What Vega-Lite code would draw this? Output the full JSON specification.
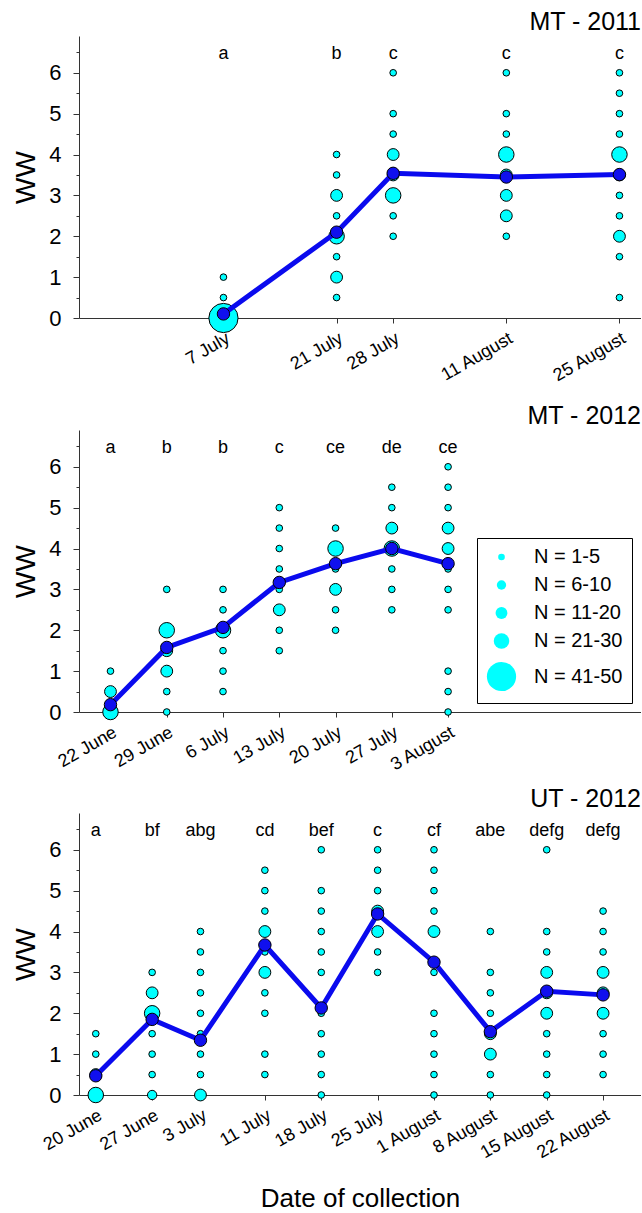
{
"$schema": "https://vega.github.io/schema/vega-lite/v6.json",
"padding": {"left": 12, "top": 10, "right": 0, "bottom": 0},
"config": {"font": "Liberation Sans", "view": {"stroke": null}, "title": {"color": "black", "font": "Liberation Sans"}, "axis": {"labelFont": "Liberation Sans", "titleFont": "Liberation Sans"}, "legend": {"labelFont": "Liberation Sans"}},
"datasets": {
"pts": [
{"panel":"MT - 2011","date":"2011-07-07","ww":1,"n":"N = 1-5"},
{"panel":"MT - 2011","date":"2011-07-07","ww":0.5,"n":"N = 1-5"},
{"panel":"MT - 2011","date":"2011-07-07","ww":0,"n":"N = 41-50"},
{"panel":"MT - 2011","date":"2011-07-21","ww":4,"n":"N = 1-5"},
{"panel":"MT - 2011","date":"2011-07-21","ww":3.5,"n":"N = 1-5"},
{"panel":"MT - 2011","date":"2011-07-21","ww":3,"n":"N = 11-20"},
{"panel":"MT - 2011","date":"2011-07-21","ww":2.5,"n":"N = 1-5"},
{"panel":"MT - 2011","date":"2011-07-21","ww":2,"n":"N = 21-30"},
{"panel":"MT - 2011","date":"2011-07-21","ww":1.5,"n":"N = 1-5"},
{"panel":"MT - 2011","date":"2011-07-21","ww":1,"n":"N = 11-20"},
{"panel":"MT - 2011","date":"2011-07-21","ww":0.5,"n":"N = 1-5"},
{"panel":"MT - 2011","date":"2011-07-28","ww":6,"n":"N = 1-5"},
{"panel":"MT - 2011","date":"2011-07-28","ww":5,"n":"N = 1-5"},
{"panel":"MT - 2011","date":"2011-07-28","ww":4.5,"n":"N = 1-5"},
{"panel":"MT - 2011","date":"2011-07-28","ww":4,"n":"N = 11-20"},
{"panel":"MT - 2011","date":"2011-07-28","ww":3.5,"n":"N = 11-20"},
{"panel":"MT - 2011","date":"2011-07-28","ww":3,"n":"N = 21-30"},
{"panel":"MT - 2011","date":"2011-07-28","ww":2.5,"n":"N = 1-5"},
{"panel":"MT - 2011","date":"2011-07-28","ww":2,"n":"N = 1-5"},
{"panel":"MT - 2011","date":"2011-08-11","ww":6,"n":"N = 1-5"},
{"panel":"MT - 2011","date":"2011-08-11","ww":5,"n":"N = 1-5"},
{"panel":"MT - 2011","date":"2011-08-11","ww":4.5,"n":"N = 1-5"},
{"panel":"MT - 2011","date":"2011-08-11","ww":4,"n":"N = 21-30"},
{"panel":"MT - 2011","date":"2011-08-11","ww":3.5,"n":"N = 11-20"},
{"panel":"MT - 2011","date":"2011-08-11","ww":3,"n":"N = 11-20"},
{"panel":"MT - 2011","date":"2011-08-11","ww":2.5,"n":"N = 11-20"},
{"panel":"MT - 2011","date":"2011-08-11","ww":2,"n":"N = 1-5"},
{"panel":"MT - 2011","date":"2011-08-25","ww":6,"n":"N = 1-5"},
{"panel":"MT - 2011","date":"2011-08-25","ww":5.5,"n":"N = 1-5"},
{"panel":"MT - 2011","date":"2011-08-25","ww":5,"n":"N = 1-5"},
{"panel":"MT - 2011","date":"2011-08-25","ww":4.5,"n":"N = 1-5"},
{"panel":"MT - 2011","date":"2011-08-25","ww":4,"n":"N = 21-30"},
{"panel":"MT - 2011","date":"2011-08-25","ww":3.5,"n":"N = 11-20"},
{"panel":"MT - 2011","date":"2011-08-25","ww":3,"n":"N = 1-5"},
{"panel":"MT - 2011","date":"2011-08-25","ww":2.5,"n":"N = 1-5"},
{"panel":"MT - 2011","date":"2011-08-25","ww":2,"n":"N = 11-20"},
{"panel":"MT - 2011","date":"2011-08-25","ww":1.5,"n":"N = 1-5"},
{"panel":"MT - 2011","date":"2011-08-25","ww":0.5,"n":"N = 1-5"},
{"panel":"MT - 2012","date":"2012-06-22","ww":1,"n":"N = 1-5"},
{"panel":"MT - 2012","date":"2012-06-22","ww":0.5,"n":"N = 11-20"},
{"panel":"MT - 2012","date":"2012-06-22","ww":0,"n":"N = 21-30"},
{"panel":"MT - 2012","date":"2012-06-29","ww":3,"n":"N = 1-5"},
{"panel":"MT - 2012","date":"2012-06-29","ww":2,"n":"N = 21-30"},
{"panel":"MT - 2012","date":"2012-06-29","ww":1.5,"n":"N = 11-20"},
{"panel":"MT - 2012","date":"2012-06-29","ww":1,"n":"N = 11-20"},
{"panel":"MT - 2012","date":"2012-06-29","ww":0.5,"n":"N = 1-5"},
{"panel":"MT - 2012","date":"2012-06-29","ww":0,"n":"N = 1-5"},
{"panel":"MT - 2012","date":"2012-07-06","ww":3,"n":"N = 1-5"},
{"panel":"MT - 2012","date":"2012-07-06","ww":2.5,"n":"N = 1-5"},
{"panel":"MT - 2012","date":"2012-07-06","ww":2,"n":"N = 21-30"},
{"panel":"MT - 2012","date":"2012-07-06","ww":1.5,"n":"N = 1-5"},
{"panel":"MT - 2012","date":"2012-07-06","ww":1,"n":"N = 1-5"},
{"panel":"MT - 2012","date":"2012-07-06","ww":0.5,"n":"N = 1-5"},
{"panel":"MT - 2012","date":"2012-07-13","ww":5,"n":"N = 1-5"},
{"panel":"MT - 2012","date":"2012-07-13","ww":4.5,"n":"N = 1-5"},
{"panel":"MT - 2012","date":"2012-07-13","ww":4,"n":"N = 1-5"},
{"panel":"MT - 2012","date":"2012-07-13","ww":3.5,"n":"N = 1-5"},
{"panel":"MT - 2012","date":"2012-07-13","ww":3,"n":"N = 1-5"},
{"panel":"MT - 2012","date":"2012-07-13","ww":2.5,"n":"N = 11-20"},
{"panel":"MT - 2012","date":"2012-07-13","ww":2,"n":"N = 1-5"},
{"panel":"MT - 2012","date":"2012-07-13","ww":1.5,"n":"N = 1-5"},
{"panel":"MT - 2012","date":"2012-07-20","ww":4.5,"n":"N = 1-5"},
{"panel":"MT - 2012","date":"2012-07-20","ww":4,"n":"N = 21-30"},
{"panel":"MT - 2012","date":"2012-07-20","ww":3.5,"n":"N = 1-5"},
{"panel":"MT - 2012","date":"2012-07-20","ww":3,"n":"N = 11-20"},
{"panel":"MT - 2012","date":"2012-07-20","ww":2.5,"n":"N = 1-5"},
{"panel":"MT - 2012","date":"2012-07-20","ww":2,"n":"N = 1-5"},
{"panel":"MT - 2012","date":"2012-07-27","ww":5.5,"n":"N = 1-5"},
{"panel":"MT - 2012","date":"2012-07-27","ww":5,"n":"N = 1-5"},
{"panel":"MT - 2012","date":"2012-07-27","ww":4.5,"n":"N = 11-20"},
{"panel":"MT - 2012","date":"2012-07-27","ww":4,"n":"N = 21-30"},
{"panel":"MT - 2012","date":"2012-07-27","ww":3.5,"n":"N = 1-5"},
{"panel":"MT - 2012","date":"2012-07-27","ww":3,"n":"N = 1-5"},
{"panel":"MT - 2012","date":"2012-07-27","ww":2.5,"n":"N = 1-5"},
{"panel":"MT - 2012","date":"2012-08-03","ww":6,"n":"N = 1-5"},
{"panel":"MT - 2012","date":"2012-08-03","ww":5.5,"n":"N = 1-5"},
{"panel":"MT - 2012","date":"2012-08-03","ww":5,"n":"N = 1-5"},
{"panel":"MT - 2012","date":"2012-08-03","ww":4.5,"n":"N = 11-20"},
{"panel":"MT - 2012","date":"2012-08-03","ww":4,"n":"N = 11-20"},
{"panel":"MT - 2012","date":"2012-08-03","ww":3.5,"n":"N = 1-5"},
{"panel":"MT - 2012","date":"2012-08-03","ww":3,"n":"N = 1-5"},
{"panel":"MT - 2012","date":"2012-08-03","ww":2.5,"n":"N = 1-5"},
{"panel":"MT - 2012","date":"2012-08-03","ww":1,"n":"N = 1-5"},
{"panel":"MT - 2012","date":"2012-08-03","ww":0.5,"n":"N = 1-5"},
{"panel":"MT - 2012","date":"2012-08-03","ww":0,"n":"N = 1-5"},
{"panel":"UT - 2012","date":"2012-06-20","ww":1.5,"n":"N = 1-5"},
{"panel":"UT - 2012","date":"2012-06-20","ww":1,"n":"N = 1-5"},
{"panel":"UT - 2012","date":"2012-06-20","ww":0.5,"n":"N = 11-20"},
{"panel":"UT - 2012","date":"2012-06-20","ww":0,"n":"N = 21-30"},
{"panel":"UT - 2012","date":"2012-06-27","ww":3,"n":"N = 1-5"},
{"panel":"UT - 2012","date":"2012-06-27","ww":2.5,"n":"N = 11-20"},
{"panel":"UT - 2012","date":"2012-06-27","ww":2,"n":"N = 21-30"},
{"panel":"UT - 2012","date":"2012-06-27","ww":1.5,"n":"N = 1-5"},
{"panel":"UT - 2012","date":"2012-06-27","ww":1,"n":"N = 1-5"},
{"panel":"UT - 2012","date":"2012-06-27","ww":0.5,"n":"N = 1-5"},
{"panel":"UT - 2012","date":"2012-06-27","ww":0,"n":"N = 6-10"},
{"panel":"UT - 2012","date":"2012-07-03","ww":4,"n":"N = 1-5"},
{"panel":"UT - 2012","date":"2012-07-03","ww":3.5,"n":"N = 1-5"},
{"panel":"UT - 2012","date":"2012-07-03","ww":3,"n":"N = 1-5"},
{"panel":"UT - 2012","date":"2012-07-03","ww":2.5,"n":"N = 1-5"},
{"panel":"UT - 2012","date":"2012-07-03","ww":2,"n":"N = 1-5"},
{"panel":"UT - 2012","date":"2012-07-03","ww":1.5,"n":"N = 1-5"},
{"panel":"UT - 2012","date":"2012-07-03","ww":1,"n":"N = 1-5"},
{"panel":"UT - 2012","date":"2012-07-03","ww":0.5,"n":"N = 1-5"},
{"panel":"UT - 2012","date":"2012-07-03","ww":0,"n":"N = 11-20"},
{"panel":"UT - 2012","date":"2012-07-11","ww":5.5,"n":"N = 1-5"},
{"panel":"UT - 2012","date":"2012-07-11","ww":5,"n":"N = 1-5"},
{"panel":"UT - 2012","date":"2012-07-11","ww":4.5,"n":"N = 1-5"},
{"panel":"UT - 2012","date":"2012-07-11","ww":4,"n":"N = 11-20"},
{"panel":"UT - 2012","date":"2012-07-11","ww":3.5,"n":"N = 1-5"},
{"panel":"UT - 2012","date":"2012-07-11","ww":3,"n":"N = 11-20"},
{"panel":"UT - 2012","date":"2012-07-11","ww":2.5,"n":"N = 1-5"},
{"panel":"UT - 2012","date":"2012-07-11","ww":2,"n":"N = 1-5"},
{"panel":"UT - 2012","date":"2012-07-11","ww":1,"n":"N = 1-5"},
{"panel":"UT - 2012","date":"2012-07-11","ww":0.5,"n":"N = 1-5"},
{"panel":"UT - 2012","date":"2012-07-18","ww":6,"n":"N = 1-5"},
{"panel":"UT - 2012","date":"2012-07-18","ww":5,"n":"N = 1-5"},
{"panel":"UT - 2012","date":"2012-07-18","ww":4.5,"n":"N = 1-5"},
{"panel":"UT - 2012","date":"2012-07-18","ww":4,"n":"N = 1-5"},
{"panel":"UT - 2012","date":"2012-07-18","ww":3.5,"n":"N = 1-5"},
{"panel":"UT - 2012","date":"2012-07-18","ww":3,"n":"N = 1-5"},
{"panel":"UT - 2012","date":"2012-07-18","ww":2,"n":"N = 1-5"},
{"panel":"UT - 2012","date":"2012-07-18","ww":1.5,"n":"N = 1-5"},
{"panel":"UT - 2012","date":"2012-07-18","ww":1,"n":"N = 1-5"},
{"panel":"UT - 2012","date":"2012-07-18","ww":0.5,"n":"N = 1-5"},
{"panel":"UT - 2012","date":"2012-07-18","ww":0,"n":"N = 1-5"},
{"panel":"UT - 2012","date":"2012-07-25","ww":6,"n":"N = 1-5"},
{"panel":"UT - 2012","date":"2012-07-25","ww":5.5,"n":"N = 1-5"},
{"panel":"UT - 2012","date":"2012-07-25","ww":5,"n":"N = 1-5"},
{"panel":"UT - 2012","date":"2012-07-25","ww":4.5,"n":"N = 11-20"},
{"panel":"UT - 2012","date":"2012-07-25","ww":4,"n":"N = 11-20"},
{"panel":"UT - 2012","date":"2012-07-25","ww":3.5,"n":"N = 1-5"},
{"panel":"UT - 2012","date":"2012-07-25","ww":3,"n":"N = 1-5"},
{"panel":"UT - 2012","date":"2012-08-01","ww":6,"n":"N = 1-5"},
{"panel":"UT - 2012","date":"2012-08-01","ww":5.5,"n":"N = 1-5"},
{"panel":"UT - 2012","date":"2012-08-01","ww":5,"n":"N = 1-5"},
{"panel":"UT - 2012","date":"2012-08-01","ww":4.5,"n":"N = 1-5"},
{"panel":"UT - 2012","date":"2012-08-01","ww":4,"n":"N = 11-20"},
{"panel":"UT - 2012","date":"2012-08-01","ww":3,"n":"N = 1-5"},
{"panel":"UT - 2012","date":"2012-08-01","ww":2,"n":"N = 1-5"},
{"panel":"UT - 2012","date":"2012-08-01","ww":1.5,"n":"N = 1-5"},
{"panel":"UT - 2012","date":"2012-08-01","ww":1,"n":"N = 1-5"},
{"panel":"UT - 2012","date":"2012-08-01","ww":0.5,"n":"N = 1-5"},
{"panel":"UT - 2012","date":"2012-08-01","ww":0,"n":"N = 1-5"},
{"panel":"UT - 2012","date":"2012-08-08","ww":4,"n":"N = 1-5"},
{"panel":"UT - 2012","date":"2012-08-08","ww":3,"n":"N = 1-5"},
{"panel":"UT - 2012","date":"2012-08-08","ww":2.5,"n":"N = 1-5"},
{"panel":"UT - 2012","date":"2012-08-08","ww":2,"n":"N = 1-5"},
{"panel":"UT - 2012","date":"2012-08-08","ww":1.5,"n":"N = 11-20"},
{"panel":"UT - 2012","date":"2012-08-08","ww":1,"n":"N = 11-20"},
{"panel":"UT - 2012","date":"2012-08-08","ww":0.5,"n":"N = 1-5"},
{"panel":"UT - 2012","date":"2012-08-08","ww":0,"n":"N = 1-5"},
{"panel":"UT - 2012","date":"2012-08-15","ww":6,"n":"N = 1-5"},
{"panel":"UT - 2012","date":"2012-08-15","ww":4,"n":"N = 1-5"},
{"panel":"UT - 2012","date":"2012-08-15","ww":3.5,"n":"N = 1-5"},
{"panel":"UT - 2012","date":"2012-08-15","ww":3,"n":"N = 11-20"},
{"panel":"UT - 2012","date":"2012-08-15","ww":2.5,"n":"N = 11-20"},
{"panel":"UT - 2012","date":"2012-08-15","ww":2,"n":"N = 11-20"},
{"panel":"UT - 2012","date":"2012-08-15","ww":1.5,"n":"N = 1-5"},
{"panel":"UT - 2012","date":"2012-08-15","ww":1,"n":"N = 1-5"},
{"panel":"UT - 2012","date":"2012-08-15","ww":0.5,"n":"N = 1-5"},
{"panel":"UT - 2012","date":"2012-08-15","ww":0,"n":"N = 1-5"},
{"panel":"UT - 2012","date":"2012-08-22","ww":4.5,"n":"N = 1-5"},
{"panel":"UT - 2012","date":"2012-08-22","ww":4,"n":"N = 1-5"},
{"panel":"UT - 2012","date":"2012-08-22","ww":3.5,"n":"N = 1-5"},
{"panel":"UT - 2012","date":"2012-08-22","ww":3,"n":"N = 11-20"},
{"panel":"UT - 2012","date":"2012-08-22","ww":2.5,"n":"N = 11-20"},
{"panel":"UT - 2012","date":"2012-08-22","ww":2,"n":"N = 11-20"},
{"panel":"UT - 2012","date":"2012-08-22","ww":1.5,"n":"N = 1-5"},
{"panel":"UT - 2012","date":"2012-08-22","ww":1,"n":"N = 1-5"},
{"panel":"UT - 2012","date":"2012-08-22","ww":0.5,"n":"N = 1-5"}
],
"means": [
{"panel":"MT - 2011","date":"2011-07-07","ww":0.1,"letter":"a"},
{"panel":"MT - 2011","date":"2011-07-21","ww":2.1,"letter":"b"},
{"panel":"MT - 2011","date":"2011-07-28","ww":3.54,"letter":"c"},
{"panel":"MT - 2011","date":"2011-08-11","ww":3.45,"letter":"c"},
{"panel":"MT - 2011","date":"2011-08-25","ww":3.51,"letter":"c"},
{"panel":"MT - 2012","date":"2012-06-22","ww":0.18,"letter":"a"},
{"panel":"MT - 2012","date":"2012-06-29","ww":1.58,"letter":"b"},
{"panel":"MT - 2012","date":"2012-07-06","ww":2.07,"letter":"b"},
{"panel":"MT - 2012","date":"2012-07-13","ww":3.17,"letter":"c"},
{"panel":"MT - 2012","date":"2012-07-20","ww":3.63,"letter":"ce"},
{"panel":"MT - 2012","date":"2012-07-27","ww":4.0,"letter":"de"},
{"panel":"MT - 2012","date":"2012-08-03","ww":3.63,"letter":"ce"},
{"panel":"UT - 2012","date":"2012-06-20","ww":0.47,"letter":"a"},
{"panel":"UT - 2012","date":"2012-06-27","ww":1.85,"letter":"bf"},
{"panel":"UT - 2012","date":"2012-07-03","ww":1.34,"letter":"abg"},
{"panel":"UT - 2012","date":"2012-07-11","ww":3.67,"letter":"cd"},
{"panel":"UT - 2012","date":"2012-07-18","ww":2.13,"letter":"bef"},
{"panel":"UT - 2012","date":"2012-07-25","ww":4.43,"letter":"c"},
{"panel":"UT - 2012","date":"2012-08-01","ww":3.25,"letter":"cf"},
{"panel":"UT - 2012","date":"2012-08-08","ww":1.55,"letter":"abe"},
{"panel":"UT - 2012","date":"2012-08-15","ww":2.54,"letter":"defg"},
{"panel":"UT - 2012","date":"2012-08-22","ww":2.45,"letter":"defg"}
]
},
"spacing": 18,
"resolve": {"scale": {"size": "independent"}, "legend": {"size": "independent"}},
"vconcat": [
{
"width": 562, "height": 282,
"title": {"text": "MT - 2011", "anchor": "end", "fontSize": 25, "fontWeight": "normal", "offset": 1},
"encoding": {"y": {"field": "ww", "type": "quantitative", "scale": {"domain": [0, 6.9], "nice": false, "zero": false},
  "axis": {"title": "WW", "titleFontSize": 28, "titleFontWeight": "normal", "titleColor": "black", "titlePadding": 8, "values": [0,0.5,1,1.5,2,2.5,3,3.5,4,4.5,5,5.5,6,6.5], "labelExpr": "datum.value % 1 === 0 ? format(datum.value, 'd') : ''", "tickSize": {"condition": {"test": "datum.value % 1 === 0", "value": 6}, "value": 3}, "labelFontSize": 22, "labelPadding": 12, "labelColor": "black", "labelOverlap": false, "domainColor": "#333333", "tickColor": "#333333", "grid": false}}},
"layer": [
{"data": {"name": "pts"}, "transform": [{"filter": "datum.panel === 'MT - 2011'"}],
 "mark": {"type": "point", "filled": true, "fill": "#00FFFF", "stroke": "#000000", "strokeWidth": 1, "opacity": 1},
 "encoding": {
  "x": {"field": "date", "type": "temporal", "scale": {"type": "utc", "domain": [{"year":2011,"month":6,"date":19,"hours":3,"utc":true},{"year":2011,"month":8,"date":27,"hours":16,"utc":true}]},
   "axis": {"title": null, "values": [{"year":2011,"month":7,"date":7,"utc":true},{"year":2011,"month":7,"date":21,"utc":true},{"year":2011,"month":7,"date":28,"utc":true},{"year":2011,"month":8,"date":11,"utc":true},{"year":2011,"month":8,"date":25,"utc":true}], "format": "%-d %B", "labelAngle": -30, "labelAlign": "right", "labelBaseline": "top", "labelFontSize": 18, "labelPadding": 6, "tickSize": 5, "grid": false, "domainColor": "#333333", "tickColor": "#333333", "labelColor": "black", "labelOverlap": false, "labelFlush": false, "labelBound": false}},
  "size": {"field": "n", "type": "ordinal", "scale": {"type": "ordinal", "domain": ["N = 1-5","N = 6-10","N = 11-20","N = 21-30","N = 41-50"], "range": [44, 87, 140, 240, 855]}, "legend": null}}},
{"data": {"name": "means"}, "transform": [{"filter": "datum.panel === 'MT - 2011'"}],
 "mark": {"type": "line", "stroke": "#0A0AEE", "strokeWidth": 5},
 "encoding": {"x": {"field": "date", "type": "temporal", "scale": {"type": "utc", "domain": [{"year":2011,"month":6,"date":19,"hours":3,"utc":true},{"year":2011,"month":8,"date":27,"hours":16,"utc":true}]}}}},
{"data": {"name": "means"}, "transform": [{"filter": "datum.panel === 'MT - 2011'"}],
 "mark": {"type": "point", "filled": true, "fill": "#1010EE", "stroke": "#000000", "strokeWidth": 1, "opacity": 1, "size": 154},
 "encoding": {"x": {"field": "date", "type": "temporal", "scale": {"type": "utc", "domain": [{"year":2011,"month":6,"date":19,"hours":3,"utc":true},{"year":2011,"month":8,"date":27,"hours":16,"utc":true}]}}}},
{"data": {"name": "means"}, "transform": [{"filter": "datum.panel === 'MT - 2011'"}],
 "mark": {"type": "text", "fontSize": 18, "color": "black", "baseline": "middle", "font": "Liberation Sans"},
 "encoding": {"x": {"field": "date", "type": "temporal", "scale": {"type": "utc", "domain": [{"year":2011,"month":6,"date":19,"hours":3,"utc":true},{"year":2011,"month":8,"date":27,"hours":16,"utc":true}]}}, "y": {"datum": 6.45}, "text": {"field": "letter"}}},
{"data": {"values": [{}]}, "mark": {"type": "rule", "stroke": "#333333", "strokeWidth": 1}, "encoding": {"y": {"datum": 6.9}}}
]
},
{
"spacing": 12,
"resolve": {"scale": {"size": "independent"}, "legend": {"size": "independent"}},
"vconcat": [
{
"width": 562, "height": 282,
"title": {"text": "MT - 2012", "anchor": "end", "fontSize": 25, "fontWeight": "normal", "offset": 1},
"encoding": {"y": {"field": "ww", "type": "quantitative", "scale": {"domain": [0, 6.9], "nice": false, "zero": false},
  "axis": {"title": "WW", "titleFontSize": 28, "titleFontWeight": "normal", "titleColor": "black", "titlePadding": 8, "values": [0,0.5,1,1.5,2,2.5,3,3.5,4,4.5,5,5.5,6,6.5], "labelExpr": "datum.value % 1 === 0 ? format(datum.value, 'd') : ''", "tickSize": {"condition": {"test": "datum.value % 1 === 0", "value": 6}, "value": 3}, "labelFontSize": 22, "labelPadding": 12, "labelColor": "black", "labelOverlap": false, "domainColor": "#333333", "tickColor": "#333333", "grid": false}}},
"layer": [
{"data": {"name": "pts"}, "transform": [{"filter": "datum.panel === 'MT - 2012'"}],
 "mark": {"type": "point", "filled": true, "fill": "#00FFFF", "stroke": "#000000", "strokeWidth": 1, "opacity": 1},
 "encoding": {
  "x": {"field": "date", "type": "temporal", "scale": {"type": "utc", "domain": [{"year":2012,"month":6,"date":18,"hours":2,"utc":true},{"year":2012,"month":8,"date":27,"utc":true}]},
   "axis": {"title": null, "values": [{"year":2012,"month":6,"date":22,"utc":true},{"year":2012,"month":6,"date":29,"utc":true},{"year":2012,"month":7,"date":6,"utc":true},{"year":2012,"month":7,"date":13,"utc":true},{"year":2012,"month":7,"date":20,"utc":true},{"year":2012,"month":7,"date":27,"utc":true},{"year":2012,"month":8,"date":3,"utc":true}], "format": "%-d %B", "labelAngle": -30, "labelAlign": "right", "labelBaseline": "top", "labelFontSize": 18, "labelPadding": 6, "tickSize": 5, "grid": false, "domainColor": "#333333", "tickColor": "#333333", "labelColor": "black", "labelOverlap": false, "labelFlush": false, "labelBound": false}},
  "size": {"field": "n", "type": "ordinal", "scale": {"type": "ordinal", "domain": ["N = 1-5","N = 6-10","N = 11-20","N = 21-30","N = 41-50"], "range": [44, 87, 140, 240, 855]},
   "legend": {"title": null, "orient": "bottom-right", "offset": 9, "strokeColor": "black", "fillColor": "white", "padding": 9, "labelFontSize": 20, "labelColor": "black", "symbolFillColor": "#00FFFF", "symbolStrokeColor": "black", "symbolStrokeWidth": 1, "symbolOpacity": 1, "symbolType": "circle", "rowPadding": 8, "labelOffset": 17}}}},
{"data": {"name": "means"}, "transform": [{"filter": "datum.panel === 'MT - 2012'"}],
 "mark": {"type": "line", "stroke": "#0A0AEE", "strokeWidth": 5},
 "encoding": {"x": {"field": "date", "type": "temporal", "scale": {"type": "utc", "domain": [{"year":2012,"month":6,"date":18,"hours":2,"utc":true},{"year":2012,"month":8,"date":27,"utc":true}]}}}},
{"data": {"name": "means"}, "transform": [{"filter": "datum.panel === 'MT - 2012'"}],
 "mark": {"type": "point", "filled": true, "fill": "#1010EE", "stroke": "#000000", "strokeWidth": 1, "opacity": 1, "size": 154},
 "encoding": {"x": {"field": "date", "type": "temporal", "scale": {"type": "utc", "domain": [{"year":2012,"month":6,"date":18,"hours":2,"utc":true},{"year":2012,"month":8,"date":27,"utc":true}]}}}},
{"data": {"name": "means"}, "transform": [{"filter": "datum.panel === 'MT - 2012'"}],
 "mark": {"type": "text", "fontSize": 18, "color": "black", "baseline": "middle", "font": "Liberation Sans"},
 "encoding": {"x": {"field": "date", "type": "temporal", "scale": {"type": "utc", "domain": [{"year":2012,"month":6,"date":18,"hours":2,"utc":true},{"year":2012,"month":8,"date":27,"utc":true}]}}, "y": {"datum": 6.45}, "text": {"field": "letter"}}},
{"data": {"values": [{}]}, "mark": {"type": "rule", "stroke": "#333333", "strokeWidth": 1}, "encoding": {"y": {"datum": 6.9}}}
]
},
{
"width": 562, "height": 282,
"title": {"text": "UT - 2012", "anchor": "end", "fontSize": 25, "fontWeight": "normal", "offset": 1},
"encoding": {"y": {"field": "ww", "type": "quantitative", "scale": {"domain": [0, 6.9], "nice": false, "zero": false},
  "axis": {"title": "WW", "titleFontSize": 28, "titleFontWeight": "normal", "titleColor": "black", "titlePadding": 8, "values": [0,0.5,1,1.5,2,2.5,3,3.5,4,4.5,5,5.5,6,6.5], "labelExpr": "datum.value % 1 === 0 ? format(datum.value, 'd') : ''", "tickSize": {"condition": {"test": "datum.value % 1 === 0", "value": 6}, "value": 3}, "labelFontSize": 22, "labelPadding": 12, "labelColor": "black", "labelOverlap": false, "domainColor": "#333333", "tickColor": "#333333", "grid": false}}},
"layer": [
{"data": {"name": "pts"}, "transform": [{"filter": "datum.panel === 'UT - 2012'"}],
 "mark": {"type": "point", "filled": true, "fill": "#00FFFF", "stroke": "#000000", "strokeWidth": 1, "opacity": 1},
 "encoding": {
  "x": {"field": "date", "type": "temporal", "scale": {"type": "utc", "domain": [{"year":2012,"month":6,"date":17,"hours":22,"utc":true},{"year":2012,"month":8,"date":26,"hours":17,"utc":true}]},
   "axis": {"title": "Date of collection", "titleFontSize": 26, "titleFontWeight": "normal", "titleColor": "black", "titlePadding": 23, "values": [{"year":2012,"month":6,"date":20,"utc":true},{"year":2012,"month":6,"date":27,"utc":true},{"year":2012,"month":7,"date":3,"utc":true},{"year":2012,"month":7,"date":11,"utc":true},{"year":2012,"month":7,"date":18,"utc":true},{"year":2012,"month":7,"date":25,"utc":true},{"year":2012,"month":8,"date":1,"utc":true},{"year":2012,"month":8,"date":8,"utc":true},{"year":2012,"month":8,"date":15,"utc":true},{"year":2012,"month":8,"date":22,"utc":true}], "format": "%-d %B", "labelAngle": -30, "labelAlign": "right", "labelBaseline": "top", "labelFontSize": 18, "labelPadding": 6, "tickSize": 5, "grid": false, "domainColor": "#333333", "tickColor": "#333333", "labelColor": "black", "labelOverlap": false, "labelFlush": false, "labelBound": false}},
  "size": {"field": "n", "type": "ordinal", "scale": {"type": "ordinal", "domain": ["N = 1-5","N = 6-10","N = 11-20","N = 21-30","N = 41-50"], "range": [44, 87, 140, 240, 855]}, "legend": null}}},
{"data": {"name": "means"}, "transform": [{"filter": "datum.panel === 'UT - 2012'"}],
 "mark": {"type": "line", "stroke": "#0A0AEE", "strokeWidth": 5},
 "encoding": {"x": {"field": "date", "type": "temporal", "scale": {"type": "utc", "domain": [{"year":2012,"month":6,"date":17,"hours":22,"utc":true},{"year":2012,"month":8,"date":26,"hours":17,"utc":true}]}}}},
{"data": {"name": "means"}, "transform": [{"filter": "datum.panel === 'UT - 2012'"}],
 "mark": {"type": "point", "filled": true, "fill": "#1010EE", "stroke": "#000000", "strokeWidth": 1, "opacity": 1, "size": 154},
 "encoding": {"x": {"field": "date", "type": "temporal", "scale": {"type": "utc", "domain": [{"year":2012,"month":6,"date":17,"hours":22,"utc":true},{"year":2012,"month":8,"date":26,"hours":17,"utc":true}]}}}},
{"data": {"name": "means"}, "transform": [{"filter": "datum.panel === 'UT - 2012'"}],
 "mark": {"type": "text", "fontSize": 18, "color": "black", "baseline": "middle", "font": "Liberation Sans"},
 "encoding": {"x": {"field": "date", "type": "temporal", "scale": {"type": "utc", "domain": [{"year":2012,"month":6,"date":17,"hours":22,"utc":true},{"year":2012,"month":8,"date":26,"hours":17,"utc":true}]}}, "y": {"datum": 6.45}, "text": {"field": "letter"}}},
{"data": {"values": [{}]}, "mark": {"type": "rule", "stroke": "#333333", "strokeWidth": 1}, "encoding": {"y": {"datum": 6.9}}}
]
}
]
}
]
}
